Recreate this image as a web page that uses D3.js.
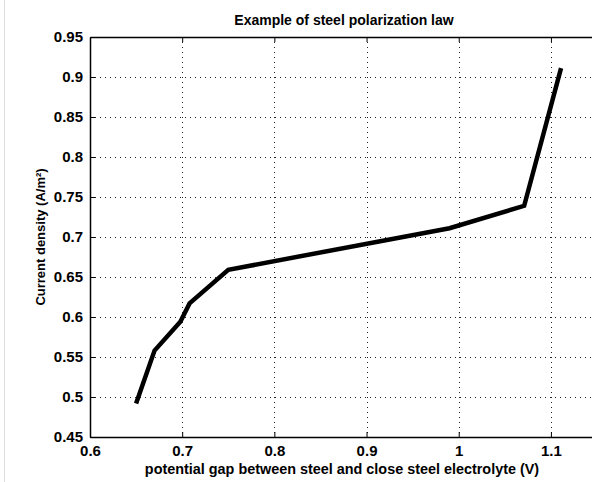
<!DOCTYPE html>
<html>
<head>
<meta charset="utf-8">
<script src="https://cdn.jsdelivr.net/npm/d3@7"></script>
<style>
  body { margin: 0; background: #fff; }
  svg { font-family: "Liberation Sans", Arial, sans-serif; }
</style>
</head>
<body>
<div id="vis"></div>
<script>
// Constants
const FRAME_WIDTH = 592;
const FRAME_HEIGHT = 482;
const MARGINS = { left: 90, right: -5, top: 37, bottom: 45 };

const VIS_WIDTH = FRAME_WIDTH - MARGINS.left - MARGINS.right;
const VIS_HEIGHT = FRAME_HEIGHT - MARGINS.top - MARGINS.bottom;

// data
const potential = [0.65, 0.67, 0.698, 0.708, 0.75, 0.99, 1.071, 1.111];
const density = [0.492, 0.558, 0.594, 0.617, 0.659, 0.711, 0.739, 0.911];

// ticks
const xTicks = [0.6, 0.7, 0.8, 0.9, 1.0, 1.1];
const yTicks = [0.45, 0.5, 0.55, 0.6, 0.65, 0.7, 0.75, 0.8, 0.85, 0.9, 0.95];

const FRAME = d3.select("#vis")
    .append("svg")
    .attr("width", FRAME_WIDTH)
    .attr("height", FRAME_HEIGHT);

// faint border line on the left
FRAME.append("line")
    .attr("x1", 4.5).attr("x2", 4.5)
    .attr("y1", 0).attr("y2", FRAME_HEIGHT)
    .attr("stroke", "#dedede");

const X_SCALE = d3.scaleLinear()
    .domain([0.6, 1.15])
    .range([0, VIS_WIDTH]);

const Y_SCALE = d3.scaleLinear()
    .domain([0.45, 0.95])
    .range([VIS_HEIGHT, 0]);

const plot = FRAME.append("g")
    .attr("transform", "translate(" + MARGINS.left + "," + MARGINS.top + ")");

// dotted grid
plot.selectAll(".vgrid")
    .data(xTicks.slice(1))
    .enter()
    .append("line")
    .attr("x1", (d) => Math.round(X_SCALE(d)) + 0.5)
    .attr("x2", (d) => Math.round(X_SCALE(d)) + 0.5)
    .attr("y1", 0)
    .attr("y2", VIS_HEIGHT)
    .attr("stroke", "#222")
    .attr("stroke-dasharray", "1,4");

plot.selectAll(".hgrid")
    .data(yTicks.slice(1, -1))
    .enter()
    .append("line")
    .attr("x1", 0)
    .attr("x2", VIS_WIDTH)
    .attr("y1", (d) => Math.round(Y_SCALE(d)) + 0.5)
    .attr("y2", (d) => Math.round(Y_SCALE(d)) + 0.5)
    .attr("stroke", "#222")
    .attr("stroke-dasharray", "1,4");

// axes (matlab style inward ticks)
const fmt = (d) => d3.format("")(+d.toFixed(2));

plot.append("g")
    .attr("transform", "translate(0," + VIS_HEIGHT + ")")
    .call(d3.axisBottom(X_SCALE).tickValues(xTicks).tickSizeInner(-5).tickSizeOuter(0)
        .tickPadding(8).tickFormat(fmt));

plot.append("g")
    .call(d3.axisLeft(Y_SCALE).tickValues(yTicks).tickSizeInner(-5).tickSizeOuter(0)
        .tickPadding(7).tickFormat(fmt));

plot.append("g")
    .call(d3.axisTop(X_SCALE).tickValues(xTicks).tickSizeInner(-5).tickSizeOuter(0)
        .tickFormat(""));

plot.append("g")
    .attr("transform", "translate(" + VIS_WIDTH + ",0)")
    .call(d3.axisRight(Y_SCALE).tickValues(yTicks).tickSizeInner(-5).tickSizeOuter(0)
        .tickFormat(""));

plot.selectAll(".domain").attr("stroke", "#000").attr("stroke-width", 1.5);
plot.selectAll(".tick line").attr("stroke", "#000");
plot.selectAll(".tick text")
    .attr("font-size", "15px")
    .attr("font-weight", "bold")
    .attr("fill", "#000");

// the curve
plot.append("path")
    .datum(potential.map((p, i) => [p, density[i]]))
    .attr("fill", "none")
    .attr("stroke", "#000")
    .attr("stroke-width", 4.5)
    .attr("stroke-linejoin", "miter")
    .attr("d", d3.line()
        .x((d) => X_SCALE(d[0]))
        .y((d) => Y_SCALE(d[1])));

// labels
FRAME.append("text")
    .attr("x", 344)
    .attr("y", 25)
    .attr("text-anchor", "middle")
    .attr("font-size", "14px")
    .attr("font-weight", "bold")
    .text("Example of steel polarization law");

FRAME.append("text")
    .attr("x", 342)
    .attr("y", 474)
    .attr("text-anchor", "middle")
    .attr("font-size", "14.4px")
    .attr("font-weight", "bold")
    .text("potential gap between steel and close steel electrolyte (V)");

FRAME.append("text")
    .attr("transform", "translate(45,237) rotate(-90)")
    .attr("text-anchor", "middle")
    .attr("font-size", "13px")
    .attr("font-weight", "bold")
    .text("Current density (A/m²)");
</script>
</body>
</html>
